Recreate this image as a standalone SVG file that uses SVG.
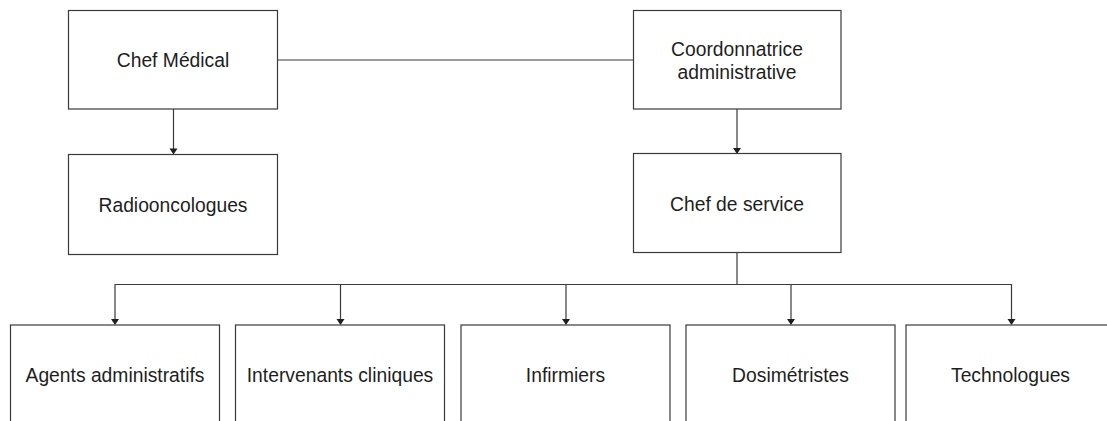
<svg xmlns="http://www.w3.org/2000/svg" width="1107" height="421" viewBox="0 0 1107 421">
  <style>
    .box { fill: #ffffff; stroke: #3a3a3a; stroke-width: 1.2; }
    .lbl { font-family: "Liberation Sans", Arial, sans-serif; font-size: 19.3px; fill: #1e1e1e; text-anchor: middle; }
    .wire { fill: none; stroke: #3a3a3a; stroke-width: 1.2; }
    .head { fill: #1e1e1e; }
  </style>
  <defs>
    <!-- downward arrowhead, tip at the origin -->
    <path id="head" class="head" d="M-4,-6 L4,-6 L0,0 Z"/>
  </defs>
  <rect width="1107" height="421" fill="#ffffff"/>

  <g id="connectors">
    <!-- peer link between the two heads -->
    <line class="wire" x1="278" y1="60" x2="633" y2="60"/>
    <!-- Chef Médical -> Radiooncologues -->
    <line class="wire" x1="173.5" y1="109" x2="173.5" y2="150"/>
    <use href="#head" x="173.5" y="154.5"/>
    <!-- Coordonnatrice -> Chef de service -->
    <line class="wire" x1="737" y1="109" x2="737" y2="149"/>
    <use href="#head" x="737" y="154"/>
    <!-- Chef de service bus to the five teams -->
    <line class="wire" x1="737" y1="252.5" x2="737" y2="284.5"/>
    <polyline class="wire" points="115,320 115,284.5 1011.5,284.5 1011.5,320"/>
    <line class="wire" x1="340.5" y1="284.5" x2="340.5" y2="320"/>
    <line class="wire" x1="566" y1="284.5" x2="566" y2="320"/>
    <line class="wire" x1="791" y1="284.5" x2="791" y2="320"/>
    <use href="#head" x="115" y="325"/>
    <use href="#head" x="340.5" y="325"/>
    <use href="#head" x="566" y="325"/>
    <use href="#head" x="791" y="325"/>
    <use href="#head" x="1011.5" y="325"/>
  </g>

  <g id="chef-medical">
    <rect class="box" x="68.5" y="10.5" width="209" height="98.5"/>
    <text class="lbl" x="173" y="67">Chef Médical</text>
  </g>

  <g id="coordonnatrice">
    <rect class="box" x="633.5" y="10.5" width="207.5" height="98.5"/>
    <text class="lbl" x="737" y="56">Coordonnatrice</text>
    <text class="lbl" x="737" y="79">administrative</text>
  </g>

  <g id="radiooncologues">
    <rect class="box" x="68.5" y="154.5" width="209" height="100"/>
    <text class="lbl" x="173" y="211.5">Radiooncologues</text>
  </g>

  <g id="chef-de-service">
    <rect class="box" x="633.5" y="153.5" width="207.5" height="99"/>
    <text class="lbl" x="737" y="211">Chef de service</text>
  </g>

  <g id="agents-administratifs">
    <rect class="box" x="10.5" y="325" width="209" height="110"/>
    <text class="lbl" x="115" y="382">Agents administratifs</text>
  </g>

  <g id="intervenants-cliniques">
    <rect class="box" x="235.5" y="325" width="209" height="110"/>
    <text class="lbl" x="340" y="382">Intervenants cliniques</text>
  </g>

  <g id="infirmiers">
    <rect class="box" x="461" y="325" width="209" height="110"/>
    <text class="lbl" x="565.5" y="382">Infirmiers</text>
  </g>

  <g id="dosimetristes">
    <rect class="box" x="686" y="325" width="209" height="110"/>
    <text class="lbl" x="790.5" y="382">Dosimétristes</text>
  </g>

  <g id="technologues">
    <rect class="box" x="906" y="325" width="209" height="110"/>
    <text class="lbl" x="1010.5" y="382">Technologues</text>
  </g>
</svg>
